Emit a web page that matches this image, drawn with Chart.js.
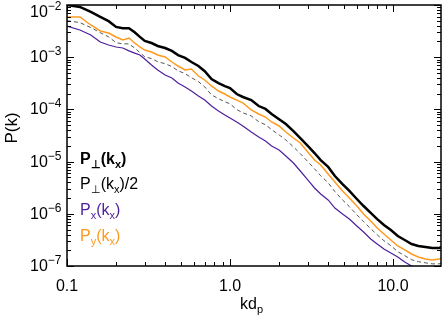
<!DOCTYPE html>
<html>
<head>
<meta charset="utf-8">
<script src="https://cdn.jsdelivr.net/npm/chart.js@4.4.1/dist/chart.umd.min.js"></script>
<style>
  html, body { margin: 0; padding: 0; background: #fff; }
  canvas { display: block; }
</style>
</head>
<body>
<canvas id="spectrum" width="443" height="317"></canvas>
<script>
// wavenumber k d_p
const kValues = [0.10, 0.12, 0.14, 0.16, 0.18, 0.20, 0.22, 0.24, 0.26, 0.28, 0.30, 0.33, 0.36, 0.40, 0.44, 0.48, 0.53, 0.58, 0.64, 0.70, 0.77, 0.85, 0.93, 1.0, 1.1, 1.2, 1.35, 1.5, 1.65, 1.8, 2.0, 2.2, 2.45, 2.7, 3.0, 3.3, 3.6, 4.0, 4.4, 4.9, 5.4, 6.0, 6.6, 7.3, 8.0, 8.8, 9.7, 10.7, 11.8, 13.0, 14.3, 15.8, 17.4, 19.2, 20];

// P_perp(k_x)
const pPerp = [1.0e-2, 9.2e-3, 7.35e-3, 5.9e-3, 4.9e-3, 3.8e-3, 3.6e-3, 3.6e-3, 3.0e-3, 2.45e-3, 2.05e-3, 1.87e-3, 1.64e-3, 1.5e-3, 1.32e-3, 1.1e-3, 9.7e-4, 8.1e-4, 6.8e-4, 5.4e-4, 3.8e-4, 3.2e-4, 2.8e-4, 2.57e-4, 1.97e-4, 1.73e-4, 1.51e-4, 1.16e-4, 1.02e-4, 8.2e-5, 6.5e-5, 5.25e-5, 3.85e-5, 2.83e-5, 2.0e-5, 1.46e-5, 1.07e-5, 7.9e-6, 5.3e-6, 3.7e-6, 2.74e-6, 1.92e-6, 1.41e-6, 1.04e-6, 7.9e-7, 6.1e-7, 4.9e-7, 3.76e-7, 3.15e-7, 2.64e-7, 2.42e-7, 2.31e-7, 2.21e-7, 2.21e-7, 2.31e-7];

// P_perp(k_x)/2
const pPerpHalf = [5.0e-3, 4.6e-3, 3.7e-3, 2.95e-3, 2.45e-3, 1.9e-3, 1.8e-3, 1.8e-3, 1.5e-3, 1.22e-3, 1.02e-3, 9.4e-4, 8.2e-4, 7.5e-4, 6.6e-4, 5.5e-4, 4.85e-4, 4.05e-4, 3.4e-4, 2.7e-4, 1.9e-4, 1.6e-4, 1.4e-4, 1.28e-4, 9.9e-5, 8.6e-5, 7.5e-5, 5.8e-5, 5.1e-5, 4.1e-5, 3.25e-5, 2.6e-5, 1.92e-5, 1.42e-5, 1.0e-5, 7.3e-6, 5.35e-6, 3.95e-6, 2.65e-6, 1.85e-6, 1.37e-6, 9.6e-7, 7.05e-7, 5.2e-7, 3.95e-7, 3.05e-7, 2.45e-7, 1.88e-7, 1.58e-7, 1.32e-7, 1.21e-7, 1.15e-7, 1.1e-7, 1.1e-7, 1.15e-7];

// P_x(k_x)
const pX = [3.96e-3, 3.32e-3, 2.66e-3, 1.95e-3, 1.71e-3, 1.57e-3, 1.5e-3, 1.32e-3, 1.2e-3, 1.1e-3, 9.25e-4, 7.1e-4, 5.69e-4, 4.56e-4, 4.0e-4, 3.21e-4, 2.69e-4, 2.25e-4, 1.81e-4, 1.51e-4, 1.16e-4, 9.31e-5, 7.82e-5, 6.84e-5, 5.74e-5, 4.81e-5, 3.69e-5, 2.96e-5, 2.48e-5, 1.99e-5, 1.67e-5, 1.28e-5, 9.4e-6, 6.61e-6, 4.45e-6, 3.12e-6, 2.39e-6, 1.84e-6, 1.29e-6, 9.91e-7, 7.94e-7, 5.83e-7, 4.48e-7, 3.29e-7, 2.64e-7, 2.12e-7, 1.77e-7, 1.49e-7, 1.19e-7, 1.0e-7, 8.4e-8, 7.0e-8, 5.9e-8, 4.9e-8, 4.7e-8];

// P_y(k_x)
const pY = [5.89e-3, 5.89e-3, 4.14e-3, 3.18e-3, 2.91e-3, 2.44e-3, 2.14e-3, 2.33e-3, 1.87e-3, 1.57e-3, 1.37e-3, 1.26e-3, 1.1e-3, 1.01e-3, 8.09e-4, 6.78e-4, 5.69e-4, 5.94e-4, 4.36e-4, 3.66e-4, 2.81e-4, 2.25e-4, 1.97e-4, 1.73e-4, 1.51e-4, 1.33e-4, 9.76e-5, 8.17e-5, 7.14e-5, 5.74e-5, 4.81e-5, 3.69e-5, 2.83e-5, 2.27e-5, 1.53e-5, 1.07e-5, 8.61e-6, 5.78e-6, 4.06e-6, 2.74e-6, 2.01e-6, 1.41e-6, 9.91e-7, 7.28e-7, 5.35e-7, 4.1e-7, 3.15e-7, 2.42e-7, 2.03e-7, 1.7e-7, 1.49e-7, 1.36e-7, 1.3e-7, 1.36e-7, 1.42e-7];

const xTickValues = [0.1, 1, 10];
const xTickLabels = ['0.1', '1.0', '10.0'];
const yTickExponents = [-7, -6, -5, -4, -3, -2];

const PURPLE = '#4e1f9c';
const ORANGE = '#ff9a1f';
const FONT = '"Liberation Sans", Arial, sans-serif';

function toPoints(ys) {
  return kValues.map((k, i) => ({ x: k, y: ys[i] }));
}

// draw a run of text pieces, some of them sub/superscript
function drawRich(ctx, parts, x, y, color, bold) {
  let cx = x;
  ctx.fillStyle = color;
  ctx.textBaseline = 'alphabetic';
  ctx.textAlign = 'left';
  parts.forEach(p => {
    const size = p.sub ? 11 : (p.sup ? 12 : 16);
    ctx.font = (bold ? 'bold ' : '') + size + 'px ' + FONT;
    const dy = p.sub ? 4 : (p.sup ? -7 : 0);
    ctx.fillText(p.t, cx, y + dy);
    cx += ctx.measureText(p.t).width;
  });
}

const framePlugin = {
  id: 'idlFrame',
  afterDraw(chart) {
    const ctx = chart.ctx;
    const a = chart.chartArea;
    const xs = chart.scales.x;
    const ys = chart.scales.y;
    ctx.save();
    ctx.strokeStyle = '#000';
    ctx.lineWidth = 1.5;
    ctx.strokeRect(a.left, a.top, a.right - a.left, a.bottom - a.top);

    ctx.lineWidth = 1;
    ctx.beginPath();
    // x ticks, bottom and top, pointing inward
    [-1, 0, 1].forEach(d => {
      for (let m = 1; m <= 9; m++) {
        const v = m * Math.pow(10, d);
        if (v > xs.max) continue;
        const px = Math.round(xs.getPixelForValue(v)) + 0.5;
        const len = m === 1 ? 7 : 4;
        ctx.moveTo(px, a.bottom); ctx.lineTo(px, a.bottom - len);
        ctx.moveTo(px, a.top); ctx.lineTo(px, a.top + len);
      }
    });
    // y ticks, left and right
    for (let e = -7; e <= -2; e++) {
      for (let m = 1; m <= 9; m++) {
        const v = m * Math.pow(10, e);
        if (v > ys.max * 1.0001) continue;
        const py = Math.round(ys.getPixelForValue(v)) + 0.5;
        const len = m === 1 ? 7 : 4;
        ctx.moveTo(a.left, py); ctx.lineTo(a.left + len, py);
        ctx.moveTo(a.right, py); ctx.lineTo(a.right - len, py);
      }
    }
    ctx.stroke();

    // x tick labels
    ctx.fillStyle = '#000';
    ctx.font = '16px ' + FONT;
    ctx.textAlign = 'center';
    ctx.textBaseline = 'alphabetic';
    xTickValues.forEach((v, i) => {
      ctx.fillText(xTickLabels[i], xs.getPixelForValue(v), 291);
    });

    // y tick labels 10^n
    yTickExponents.forEach(e => {
      const py = ys.getPixelForValue(Math.pow(10, e));
      const base = Math.max(py + 5, 17);
      drawRich(ctx, [{ t: '10' }, { t: '\u2212' + Math.abs(e), sup: true }], 30, base, '#000', false);
    });

    // axis titles
    drawRich(ctx, [{ t: 'kd' }, { t: 'p', sub: true }], 240, 309, '#000', false);
    ctx.save();
    ctx.translate(17, 128);
    ctx.rotate(-Math.PI / 2);
    ctx.font = '17px ' + FONT;
    ctx.textAlign = 'center';
    ctx.fillStyle = '#000';
    ctx.fillText('P(k)', 0, 0);
    ctx.restore();

    // legend, text only
    drawRich(ctx, [{ t: 'P' }, { t: '\u22a5', sub: true }, { t: '(k' }, { t: 'x', sub: true }, { t: ')' }], 80, 164, '#000', true);
    drawRich(ctx, [{ t: 'P' }, { t: '\u22a5', sub: true }, { t: '(k' }, { t: 'x', sub: true }, { t: ')/2' }], 80, 189, '#000', false);
    drawRich(ctx, [{ t: 'P' }, { t: 'x', sub: true }, { t: '(k' }, { t: 'x', sub: true }, { t: ')' }], 80, 215, PURPLE, false);
    drawRich(ctx, [{ t: 'P' }, { t: 'y', sub: true }, { t: '(k' }, { t: 'x', sub: true }, { t: ')' }], 80, 241, ORANGE, false);
    ctx.restore();
  }
};

new Chart(document.getElementById('spectrum'), {
  type: 'line',
  data: {
    datasets: [
      { label: 'P\u22a5(kx)', data: toPoints(pPerp), borderColor: '#000', borderWidth: 2.5 },
      { label: 'Py(kx)', data: toPoints(pY), borderColor: ORANGE, borderWidth: 1.5 },
      { label: 'P\u22a5(kx)/2', data: toPoints(pPerpHalf), borderColor: '#555', borderWidth: 1, borderDash: [4, 3] },
      { label: 'Px(kx)', data: toPoints(pX), borderColor: PURPLE, borderWidth: 1.2 }
    ]
  },
  options: {
    responsive: false,
    animation: false,
    events: [],
    elements: { point: { radius: 0 }, line: { tension: 0, fill: false } },
    layout: { padding: { top: 5, right: 2, left: 0, bottom: 0 } },
    plugins: { legend: { display: false }, tooltip: { enabled: false } },
    scales: {
      x: {
        type: 'logarithmic', min: 0.1, max: 19.7,
        ticks: { display: false }, grid: { display: false }, border: { display: false },
        afterFit: s => { s.height = 51; }
      },
      y: {
        type: 'logarithmic', min: 1e-7, max: 1e-2,
        ticks: { display: false }, grid: { display: false }, border: { display: false },
        afterFit: s => { s.width = 67; }
      }
    }
  },
  plugins: [framePlugin]
});
</script>
</body>
</html>
